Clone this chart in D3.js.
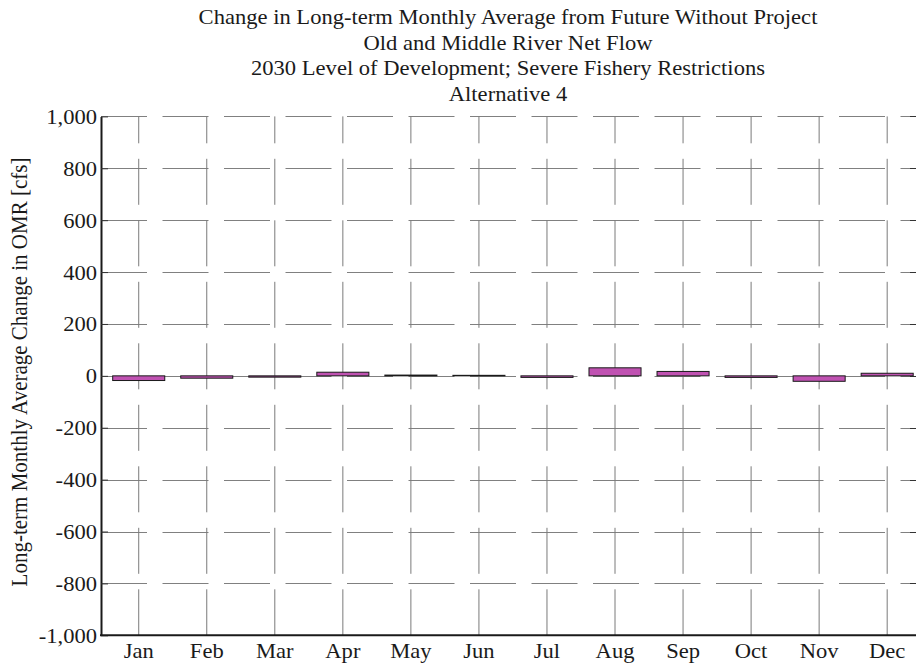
<!DOCTYPE html>
<html>
<head>
<meta charset="utf-8">
<script src="https://cdn.jsdelivr.net/npm/d3@7"></script>
<style>
  html, body { margin: 0; padding: 0; background: #fff; }
  svg { display: block; }
  text { font-family: "Liberation Serif", "Times New Roman", serif; fill: #1a1a1a; }
</style>
</head>
<body>
<svg id="chart" width="916" height="666"></svg>
<script>
// ---- data ----
const months = ["Jan","Feb","Mar","Apr","May","Jun","Jul","Aug","Sep","Oct","Nov","Dec"];
const changeOMR = [-18, -9, -5, 14, 3, 2, -6, 31, 17, -6, -21, 10];
const yTicks = [-1000, -800, -600, -400, -200, 0, 200, 400, 600, 800, 1000];
const titleLines = [
  "Change in Long-term Monthly Average from Future Without Project",
  "Old and Middle River Net Flow",
  "2030 Level of Development; Severe Fishery Restrictions",
  "Alternative 4"
];
const yTitle = "Long-term Monthly Average Change in OMR [cfs]";

// ---- layout ----
const svg = d3.select("#chart");
const plotL = 101, plotR = 916, plotT = 116.4, plotB = 635.3;
const SX = 1.075;      // horizontal stretch of text in reference
const FS = 21;         // font size

const x = d3.scaleBand().domain(months).range([104.7, 921.2])
  .paddingInner(0.235).paddingOuter(0.1175);
const y = d3.scaleLinear().domain([-1000, 1000]).range([plotB, plotT]);
const fmt = d3.formatLocale({decimal: ".", thousands: ",", grouping: [3], currency: ["$", ""], minus: "-"}).format(",");

// ---- grid ----
const grid = svg.append("g");
grid.selectAll("line.h").data(yTicks).join("line")
  .attr("x1", plotL).attr("x2", plotR)
  .attr("y1", d => Math.round(y(d)) + 0.5).attr("y2", d => Math.round(y(d)) + 0.5)
  .attr("stroke", "#808080").attr("stroke-width", 1)
  .attr("stroke-dasharray", "46 15.5");
grid.selectAll("line.v").data(months).join("line")
  .attr("x1", d => x(d) + x.bandwidth() / 2).attr("x2", d => x(d) + x.bandwidth() / 2)
  .attr("y1", plotB).attr("y2", plotT)
  .attr("stroke", "#7a7a7a").attr("stroke-width", 1)
  .attr("stroke-dasharray", "46 15.5");

// right-side inward ticks
grid.selectAll("line.rt").data(yTicks).join("line")
  .attr("x1", plotR - 6).attr("x2", plotR)
  .attr("y1", d => Math.round(y(d)) + 0.5).attr("y2", d => Math.round(y(d)) + 0.5)
  .attr("stroke", "#333").attr("stroke-width", 1);

// ---- bars ----
svg.append("g").selectAll("rect").data(changeOMR).join("rect")
  .attr("x", (d, i) => x(months[i]))
  .attr("width", x.bandwidth())
  .attr("y", d => y(Math.max(0, d)))
  .attr("height", d => Math.abs(y(d) - y(0)))
  .attr("fill", "#c052b2")
  .attr("stroke", "#1a1a1a").attr("stroke-width", 1);

// ---- y axis ----
const yAxis = svg.append("g").attr("transform", `translate(${plotL},0)`)
  .call(d3.axisLeft(y).tickValues(yTicks).tickFormat(fmt).tickSize(-7).tickSizeOuter(0).tickPadding(4));
yAxis.select(".domain").attr("stroke", "#1a1a1a").attr("stroke-width", 2);
yAxis.selectAll(".tick line").attr("stroke", "#333").attr("stroke-width", 1);
yAxis.selectAll(".tick text")
  .attr("font-size", FS).attr("x", -4 / SX).attr("dy", "0.33em")
  .attr("transform", `scale(${SX},1)`)
  .style("font-family", "'Liberation Serif', 'Times New Roman', serif").attr("fill", "#1a1a1a");

// ---- x axis ----
const xAxis = svg.append("g").attr("transform", `translate(0,${plotB})`)
  .call(d3.axisBottom(x).tickSize(0).tickSizeOuter(0));
xAxis.select(".domain").remove();
xAxis.selectAll(".tick text")
  .attr("font-size", FS).attr("y", 22.4).attr("dy", "0")
  .attr("transform", `scale(${SX},1)`)
  .style("font-family", "'Liberation Serif', 'Times New Roman', serif").attr("fill", "#1a1a1a");
svg.append("line")
  .attr("x1", plotL - 1).attr("x2", plotR)
  .attr("y1", plotB).attr("y2", plotB)
  .attr("stroke", "#1a1a1a").attr("stroke-width", 2);

// ---- titles ----
const cx = 508;
svg.append("g").selectAll("text").data(titleLines).join("text")
  .attr("transform", (d, i) => `translate(${cx},${24 + i * 25.6}) scale(${SX},1)`)
  .attr("text-anchor", "middle").attr("font-size", FS)
  .text(d => d);

svg.append("text")
  .attr("transform", `translate(27,372) rotate(-90) scale(1,${SX})`)
  .attr("text-anchor", "middle").attr("font-size", FS)
  .text(yTitle);
</script>
</body>
</html>
